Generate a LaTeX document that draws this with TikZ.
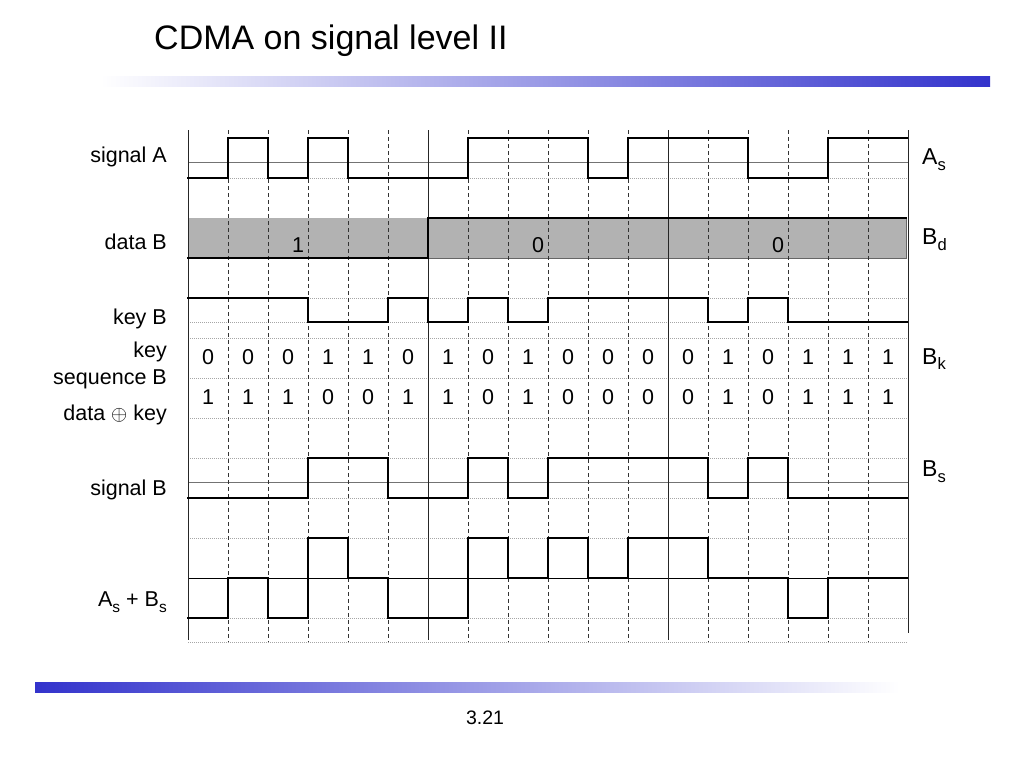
\documentclass[tikz,border=0pt]{standalone}
\usepackage{fontspec}
\setmainfont{Liberation Sans}
\definecolor{barblue}{RGB}{51,51,204}
\definecolor{boxgray}{RGB}{178,178,178}
\newcommand{\mysub}[1]{\raisebox{-0.25em}{\scalebox{0.72}{#1}}}
\begin{document}
\begin{tikzpicture}[x=1pt,y=-1pt,
  sig/.style={line width=2.9pt,line join=miter,line cap=rect},
  gridsolid/.style={black!85,line width=0.9pt},
  griddash/.style={black!80,line width=0.9pt,dash pattern=on 4pt off 3pt},
  griddot/.style={black!35,line width=0.8pt,dash pattern=on 1pt off 1pt},
  midline/.style={black!55,line width=1pt},
  lbl/.style={anchor=east,inner sep=0pt,font=\fontsize{21.5}{25}\selectfont},
  rlbl/.style={anchor=west,inner sep=0pt,font=\fontsize{23}{27}\selectfont},
  digit/.style={inner sep=0pt,font=\fontsize{21.5}{25}\selectfont}]
\useasboundingbox (0,0) rectangle (1024,768);
\fill[white] (0,0) rectangle (1024,768);
% title and bars
\node[anchor=west,inner sep=0pt,font=\fontsize{34}{40}\selectfont] (title) at (154,41) {CDMA on signal level II};
\shade[left color=white,right color=barblue] (100,76) rectangle (990,86);
\shade[left color=barblue,right color=white] (35,682) rectangle (900,692);
\node[inner sep=0pt,font=\fontsize{19.5}{23}\selectfont] (pagenum) at (485,718) {3.21};
% data box
\fill[boxgray] (188,218) rectangle (906,258);
\draw[black!60,line width=0.8pt] (428,258) -- (906,258) -- (906,218);
% horizontal grid
\foreach \yy in {178,298,322,338,378,418,458,498,538,618,642}
  \draw[griddot] (188,\yy) -- (908,\yy);
\draw[midline] (188,162) -- (908,162);
\draw[midline] (188,482) -- (908,482);
\draw[black,line width=0.9pt] (188,578) -- (908,578);
% vertical grid
\foreach \i in {1,2,3,4,5,7,8,9,10,11,13,14,15,16,17}
  \draw[griddash] ({188+40*\i},130) -- ({188+40*\i},642);
\draw[gridsolid] (188,130) -- (188,640);
\draw[gridsolid] (428,130) -- (428,640);
\draw[gridsolid] (668,130) -- (668,640);
\draw[gridsolid] (908,130) -- (908,633);
% signal A
\draw[sig] (188,178) -- (228,178) -- (228,138) -- (268,138) -- (268,178) -- (308,178) -- (308,138) -- (348,138) -- (348,178) -- (468,178) -- (468,138) -- (588,138) -- (588,178) -- (628,178) -- (628,138) -- (748,138) -- (748,178) -- (828,178) -- (828,138) -- (907,138);
% data B
\draw[sig] (188,258) -- (428,258) -- (428,218) -- (906,218);
\node[digit] (d1) at (298,245) {1};
\node[digit] (d2) at (538,245) {0};
\node[digit] (d3) at (778,245) {0};
% key B
\draw[sig] (188,298) -- (308,298) -- (308,322) -- (388,322) -- (388,298) -- (428,298) -- (428,322) -- (468,322) -- (468,298) -- (508,298) -- (508,322) -- (548,322) -- (548,298) -- (708,298) -- (708,322) -- (748,322) -- (748,298) -- (788,298) -- (788,322) -- (907,322);
% key sequence and data xor key
\foreach \b [count=\i from 0] in {0,0,0,1,1,0,1,0,1,0,0,0,0,1,0,1,1,1}
  \node[digit] (k\i) at ({208+40*\i},357) {\b};
\foreach \b [count=\i from 0] in {1,1,1,0,0,1,1,0,1,0,0,0,0,1,0,1,1,1}
  \node[digit] (x\i) at ({208+40*\i},397) {\b};
% signal B
\draw[sig] (188,498) -- (308,498) -- (308,458) -- (388,458) -- (388,498) -- (468,498) -- (468,458) -- (508,458) -- (508,498) -- (548,498) -- (548,458) -- (708,458) -- (708,498) -- (748,498) -- (748,458) -- (788,458) -- (788,498) -- (907,498);
% sum
\draw[sig] (188,618) -- (228,618) -- (228,578) -- (268,578) -- (268,618) -- (308,618) -- (308,538) -- (348,538) -- (348,578) -- (388,578) -- (388,618) -- (468,618) -- (468,538) -- (508,538) -- (508,578) -- (548,578) -- (548,538) -- (588,538) -- (588,578) -- (628,578) -- (628,538) -- (708,538) -- (708,578) -- (788,578) -- (788,618) -- (828,618) -- (828,578) -- (907,578);
% left labels
\node[lbl] (lA) at (167,157) {signal A};
\node[lbl] (lD) at (167,242) {data B};
\node[lbl] (lK) at (167,319) {key B};
\node[lbl] (lS1) at (167,352) {key};
\node[lbl] (lS2) at (167,379) {sequence B};
\node[lbl] (lX) at (167,415) {data $\oplus$ key};
\node[lbl] (lB) at (167,490) {signal B};
\node[lbl] (lSum) at (167,602) {A\mysub{s} + B\mysub{s}};
% right labels
\node[rlbl] (rA) at (922,160) {A\mysub{s}};
\node[rlbl] (rD) at (922,240) {B\mysub{d}};
\node[rlbl] (rK) at (922,359) {B\mysub{k}};
\node[rlbl] (rB) at (922,472) {B\mysub{s}};
\end{tikzpicture}
\end{document}
